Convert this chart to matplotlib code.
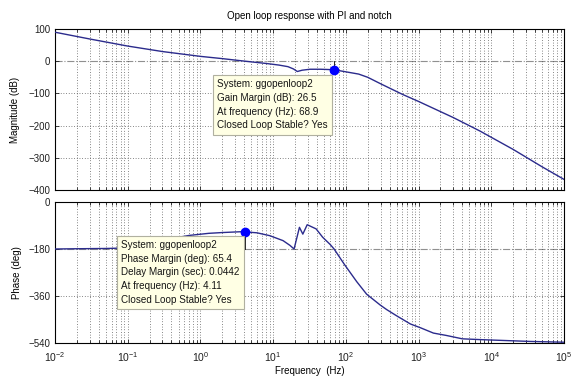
import numpy as np
import matplotlib
matplotlib.use("Agg")
import matplotlib.pyplot as plt
from matplotlib.ticker import LogLocator, FixedLocator, NullFormatter

plt.rcParams['font.family'] = ['Liberation Sans', 'DejaVu Sans']
plt.rcParams['mathtext.fontset'] = 'custom'
plt.rcParams['mathtext.rm'] = 'Liberation Sans'
plt.rcParams['mathtext.it'] = 'Liberation Sans'

# open loop magnitude (dB) vs frequency (Hz)
mag_freq = [0.01, 0.03, 0.1, 0.3, 1, 2, 4.11, 8, 12, 16, 19, 21.5, 25, 32, 45,
            68.9, 100, 150, 200, 300, 600, 1000, 3000, 7000, 20000, 50000, 100000]
mag_db = [90, 69, 47, 30, 15, 8, 0, -7, -12, -17, -24, -32, -28, -25, -25,
          -26.5, -33, -40, -50, -70, -103, -125, -175, -217, -274, -328, -367]

# open loop phase (deg) vs frequency (Hz)
ph_freq = [0.01, 0.02, 0.05, 0.1, 0.2, 0.4, 0.7, 1.3, 2, 3.5, 4.11, 6, 9, 13.7,
           17, 19.4, 23, 25.6, 29.4, 39, 48, 61, 68.9, 96, 141, 193, 295, 364,
           500, 770, 1070, 1600, 2400, 4000, 7000, 34000, 100000]
ph_deg = [-180, -179, -178, -176, -165, -140, -128, -120, -117, -114, -114.6,
          -118, -129, -148, -166, -180, -97, -123, -87, -103, -135, -163, -180,
          -240, -305, -353, -394, -412, -436, -467, -482, -502, -511, -524,
          -527, -534, -537]

# stability margins
gm_db, gm_freq = 26.5, 68.9
pm_deg, pm_freq = 65.4, 4.11
delay_margin = 0.0442

line_col = '#2b2b8c'
grid_kw = dict(linestyle=(0, (1, 2.5)), color='#404040', linewidth=0.55)
W, H = 578, 379
fig = plt.figure(figsize=(W / 100, H / 100), dpi=100)
ax1 = fig.add_axes([55 / W, 1 - 190 / H, 509 / W, 161 / H])
ax2 = fig.add_axes([55 / W, 1 - 343 / H, 509 / W, 141 / H])

for ax in (ax1, ax2):
    ax.set_xscale('log')
    ax.set_xlim(0.01, 1e5)
    ax.xaxis.set_major_locator(LogLocator(base=10, numticks=20))
    ax.xaxis.set_minor_locator(LogLocator(base=10, subs=np.arange(2, 10), numticks=20))
    ax.xaxis.set_minor_formatter(NullFormatter())
    ax.grid(True, which='both', axis='x', **grid_kw)
    ax.tick_params(which='both', direction='in', top=True, right=True,
                   labelsize=7, length=3, width=0.6, colors='#202020')
    ax.tick_params(which='minor', length=2)
    for s in ax.spines.values():
        s.set_linewidth(0.8)

# magnitude
ax1.set_ylim(-400, 100)
ax1.yaxis.set_major_locator(FixedLocator([100, 0, -100, -200, -300, -400]))
for yv in [-100, -200, -300]:
    ax1.axhline(yv, zorder=1, **grid_kw)
ax1.axhline(0, linestyle='-.', color='#909090', linewidth=0.8, zorder=1)
ax1.semilogx(mag_freq, mag_db, color=line_col, linewidth=1, zorder=3)
ax1.plot([gm_freq, gm_freq], [0, -gm_db], color='k', linewidth=0.6, zorder=3)
ax1.plot(gm_freq, -gm_db, 'o', color='#0000ff', markersize=6, zorder=4)
ax1.xaxis.set_major_formatter(NullFormatter())
ax1.set_ylabel('Magnitude (dB)', fontsize=7)
ax1.yaxis.set_label_coords(-0.069, 0.5)
ax1.set_title('Open loop response with PI and notch', fontsize=7, pad=7)

ax1.annotate('System: ggopenloop2\nGain Margin (dB): %.1f\nAt frequency (Hz): %.1f\nClosed Loop Stable? Yes'
             % (gm_db, gm_freq),
             xy=(gm_freq, -gm_db), xytext=(-84, -7), textcoords='offset points',
             ha='left', va='top', fontsize=7.1, linespacing=1.45, color='#151515',
             bbox=dict(boxstyle='square,pad=0.45', fc='#ffffe4', ec='#b0b0a0', lw=0.8),
             zorder=5)

# phase
ax2.set_ylim(-540, 0)
ax2.yaxis.set_major_locator(FixedLocator([0, -180, -360, -540]))
ax2.axhline(-360, zorder=1, **grid_kw)
ax2.axhline(-180, linestyle='-.', color='#909090', linewidth=0.8, zorder=1)
ax2.semilogx(ph_freq, ph_deg, color=line_col, linewidth=1, zorder=3)
ax2.plot([pm_freq, pm_freq], [-180, -180 + pm_deg], color='k', linewidth=0.6, zorder=3)
ax2.plot(pm_freq, -180 + pm_deg, 'o', color='#0000ff', markersize=6, zorder=4)
ax2.set_xticks([10.0 ** k for k in range(-2, 6)])
ax2.set_xticklabels(['$10^{%d}$' % k for k in range(-2, 6)])
ax2.tick_params(axis='x', which='major', labelsize=7.5, pad=5)
ax2.set_ylabel('Phase (deg)', fontsize=7)
ax2.yaxis.set_label_coords(-0.064, 0.5)
ax2.set_xlabel('Frequency  (Hz)', fontsize=7)
ax2.xaxis.set_label_coords(0.5, -0.165)

ax2.annotate('System: ggopenloop2\nPhase Margin (deg): %.1f\nDelay Margin (sec): %.4f\n'
             'At frequency (Hz): %.2f\nClosed Loop Stable? Yes'
             % (pm_deg, delay_margin, pm_freq),
             xy=(pm_freq, -180 + pm_deg), xytext=(-89, -6), textcoords='offset points',
             ha='left', va='top', fontsize=7.1, linespacing=1.45, color='#151515',
             bbox=dict(boxstyle='square,pad=0.45', fc='#ffffe4', ec='#b0b0a0', lw=0.8),
             zorder=5)

fig.savefig('out.png', dpi=100)
